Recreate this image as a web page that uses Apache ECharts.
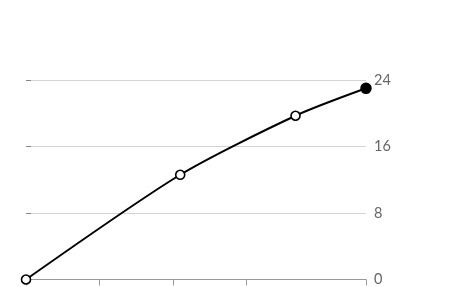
<!DOCTYPE html>
<html>
<head>
<meta charset="utf-8">
<script src="https://cdn.jsdelivr.net/npm/echarts@6/dist/echarts.min.js"></script>
<style>html,body{margin:0;padding:0;background:#fff;}#c{width:456px;height:287px;}</style>
</head>
<body>
<div id="c"></div>
<script>
const xValues = [0, 2.1, 3.67, 4.63];
const yValues = [0, 12.6, 19.7, 23.0];
const xTicks = [0, 1, 2, 3, 4.63];
const yTicks = [0, 8, 16, 24];

const chart = echarts.init(document.getElementById('c'), null, {renderer: 'canvas'});
const n = xValues.length;
chart.setOption({
  animation: false,
  backgroundColor: '#fff',
  grid: {left: 26, right: 90, top: 80, bottom: 6, containLabel: false},
  xAxis: {
    type: 'value', min: 0, max: 4.63,
    axisLine: {show: true, lineStyle: {color: '#999', width: 1}},
    axisTick: {show: true, customValues: xTicks, length: 6, lineStyle: {color: '#999'}},
    axisLabel: {show: false},
    splitLine: {show: false}
  },
  yAxis: {
    type: 'value', position: 'right', min: 0, max: 24, interval: 8,
    axisLine: {show: false},
    axisTick: {show: true, inside: false, length: 5, lineStyle: {color: '#888', width: 1}},
    axisLabel: {show: true, color: '#666', fontFamily: 'Lato', fontSize: 14.5, margin: 8},
    splitLine: {show: true, lineStyle: {color: '#d4d4d4', width: 1}}
  },
  series: [{
    type: 'line',
    smooth: 0.25,
    clip: false,
    data: xValues.map((x, i) => ({
      value: [x, yValues[i]],
      symbolSize: i === n - 1 ? 10 : 9,
      itemStyle: i === n - 1 ? {color: '#000', borderColor: '#000', borderWidth: 1.5} : {color: '#fff', borderColor: '#000', borderWidth: 1.6}
    })),
    symbol: 'circle',
    showAllSymbol: true,
    lineStyle: {color: '#000', width: 2},
    z: 5
  }]
});
</script>
</body>
</html>
